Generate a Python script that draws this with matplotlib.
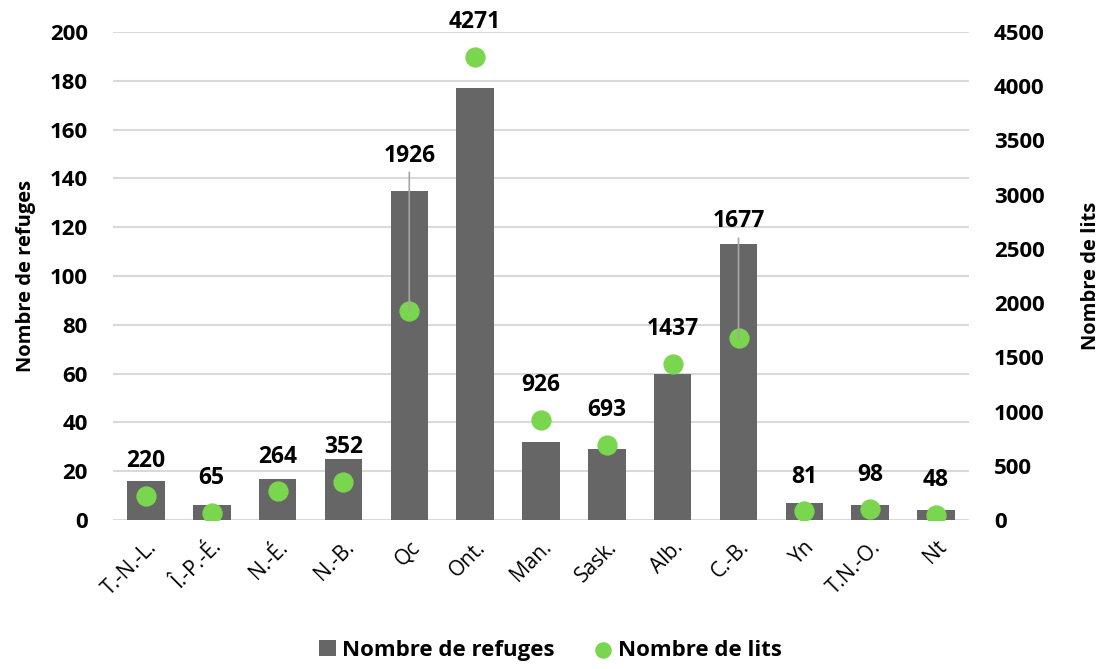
import matplotlib.pyplot as plt
import numpy as np

provinces = ['T.-N.-L.', 'Î.-P.-É.', 'N.-É.', 'N.-B.', 'Qc', 'Ont.', 'Man.',
             'Sask.', 'Alb.', 'C.-B.', 'Yn', 'T.N.-O.', 'Nt']
refuges = [16, 6, 17, 25, 135, 177, 32, 29, 60, 113, 7, 6, 4]
lits = [220, 65, 264, 352, 1926, 4271, 926, 693, 1437, 1677, 81, 98, 48]

plt.rcParams['font.family'] = ['Open Sans', 'DejaVu Sans']

bar_col = '#666666'
dot_col = '#7AD64E'

fig = plt.figure(figsize=(11.01, 6.69), dpi=100)
ax = fig.add_axes([0.1026, 0.2227, 0.7775, 0.7294])
ax2 = ax.twinx()

x = np.arange(len(provinces))
ax.bar(x, refuges, width=0.57, color=bar_col, zorder=2, label='Nombre de refuges')
ax2.scatter(x, lits, s=185, color=dot_col, zorder=3, label='Nombre de lits')

ax.set_ylim(0, 200)
ax.set_yticks(range(0, 201, 20))
ax2.set_ylim(0, 4500)
ax2.set_yticks(range(0, 4501, 500))
ax.set_xlim(-0.5, len(provinces) - 0.5)
ax.grid(axis='y', color='#d9d9d9', linewidth=1.5, zorder=0)
ax.set_axisbelow(True)

for a in (ax, ax2):
    for s in a.spines.values():
        s.set_visible(False)
    a.tick_params(length=0)
    for lab in a.get_yticklabels():
        lab.set_fontsize(16)
        lab.set_fontweight('bold')

ax.set_xticks(x)
ax.set_xticklabels(provinces, rotation=45, ha='right', rotation_mode='anchor',
                   fontsize=15)
ax.tick_params(axis='x', pad=12)
ax.tick_params(axis='y', pad=18)
ax2.tick_params(axis='y', pad=18)

ax.set_ylabel('Nombre de refuges', fontsize=14.5, fontweight='bold', labelpad=10)
ax2.set_ylabel('Nombre de lits', fontsize=14.5, fontweight='bold', labelpad=26)

# data labels above the dots; Qc and C.-B. pushed up with a leader line
offsets = {4: 112, 9: 84}
for i, v in enumerate(lits):
    off = offsets.get(i, 25)
    ax2.annotate(str(v), (i, v), xytext=(0, off), textcoords='offset points',
                 ha='center', va='center', fontsize=16.5, fontweight='bold', zorder=5)
    if i in offsets:
        ax2.annotate('', (i, v), xytext=(0, off - 12), textcoords='offset points',
                     arrowprops=dict(arrowstyle='-', color='#a6a6a6', lw=1.2,
                                     shrinkA=0, shrinkB=0), zorder=4)

h1, l1 = ax.get_legend_handles_labels()
h2, l2 = ax2.get_legend_handles_labels()
leg = fig.legend(h1 + h2, l1 + l2, loc='lower center', ncol=2, frameon=False,
                 bbox_to_anchor=(0.5, -0.018), handlelength=0.75, handleheight=0.75,
                 handletextpad=0.3, columnspacing=1.8, markerscale=0.8,
                 prop={'size': 16, 'weight': 'bold'})

fig.savefig('out.png', dpi=100)
